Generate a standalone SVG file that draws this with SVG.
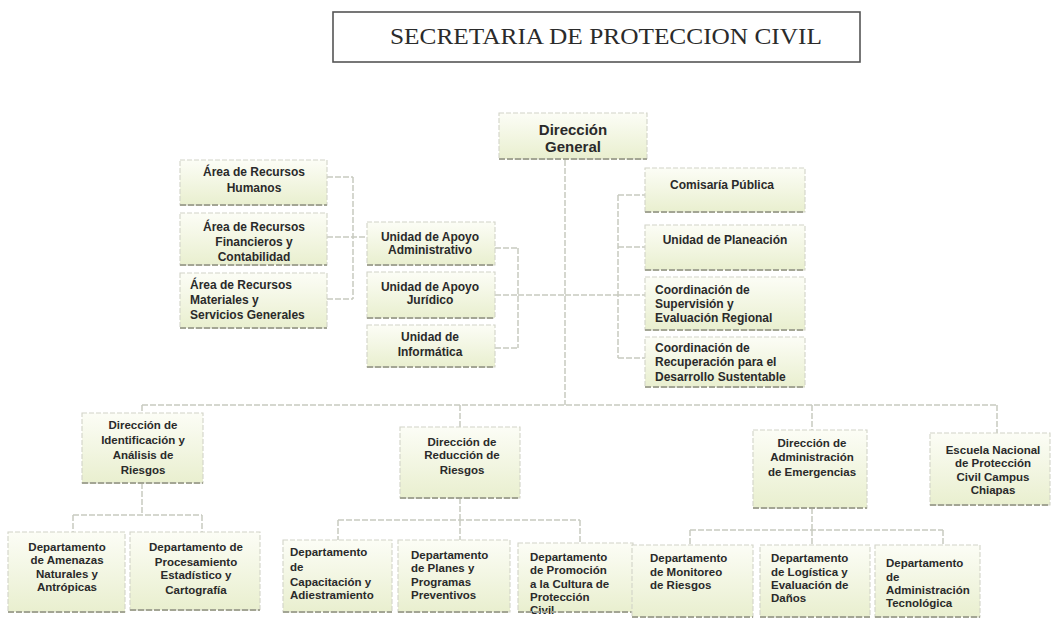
<svg xmlns="http://www.w3.org/2000/svg" width="1055" height="627" viewBox="0 0 1055 627">
<defs>
<linearGradient id="g" x1="0" y1="0" x2="0" y2="1">
<stop offset="0" stop-color="#fcfdf6"/>
<stop offset="1" stop-color="#e9efcf"/>
</linearGradient>
<style>
.bx{fill:url(#g);stroke:#d2d4c8;stroke-width:1.1;stroke-dasharray:5 2}
.sh{stroke:#a3a594;stroke-width:2;stroke-dasharray:6 2;fill:none}
.t{font-family:"Liberation Sans",Arial,sans-serif;font-weight:bold;font-size:12px;fill:#2a2a2a}
.s{font-size:11.5px}
.c{text-anchor:middle}
.dg{font-size:15px}
.cn{stroke:#c8cac0;stroke-width:1.5;stroke-dasharray:6 2;fill:none}
.title{font-family:"Liberation Serif","Times New Roman",serif;font-size:22.5px;fill:#2b2b2b}
</style>
</defs>
<rect width="1055" height="627" fill="#ffffff"/>

<g id="title">
<rect x="333" y="12" width="527" height="50" fill="none" stroke="#555" stroke-width="1.6"/>
<text class="title" x="606" y="44" text-anchor="middle" textLength="432" lengthAdjust="spacingAndGlyphs">SECRETARIA DE PROTECCION CIVIL</text>
</g>

<g id="connectors">
<path class="cn" d="M565 160V405M142 405H997M142 405V413M460 405V427M812 405V430M997 405V433"/>
<path class="cn" d="M518 295H565M518 248V348M495 248H518M495 295H518M495 348H518"/>
<path class="cn" d="M565 295H618M618 195V358M618 195H645M618 247H645M618 295H645M618 358H645"/>
<path class="cn" d="M353 177V299M327 177H353M327 237H367M327 299H353"/>
<path class="cn" d="M142 483V515M73 515H202M73 515V532M202 515V532"/>
<path class="cn" d="M460 498V520M338 520H580M338 520V540M460 520V540M580 520V543"/>
<path class="cn" d="M812 508V530M690 530H943M690 530V545M812 530V545M943 530V545"/>
</g>

<g id="direccion-general">
<rect class="bx" x="499" y="113" width="148" height="46"/><path class="sh" d="M499 159H647"/>
<text class="t c dg" x="573" y="135">Dirección</text>
<text class="t c dg" x="573" y="152">General</text>
</g>

<g id="rh">
<rect class="bx" x="180" y="160" width="147" height="45"/><path class="sh" d="M180 205H327"/>
<text class="t c" x="254" y="176">Área de Recursos</text>
<text class="t c" x="254" y="192">Humanos</text>
</g>
<g id="rf">
<rect class="bx" x="180" y="213" width="147" height="52"/><path class="sh" d="M180 265H327"/>
<text class="t c" x="254" y="231">Área de Recursos</text>
<text class="t c" x="254" y="246">Financieros y</text>
<text class="t c" x="254" y="261">Contabilidad</text>
</g>
<g id="rm">
<rect class="bx" x="180" y="273" width="147" height="55"/><path class="sh" d="M180 328H327"/>
<text class="t" x="190" y="289">Área de Recursos</text>
<text class="t" x="190" y="304">Materiales y</text>
<text class="t" x="190" y="319">Servicios Generales</text>
</g>

<g id="ua">
<rect class="bx" x="367" y="222" width="128" height="43"/><path class="sh" d="M367 265H495"/>
<text class="t c" x="430" y="241">Unidad de Apoyo</text>
<text class="t c" x="430" y="254">Administrativo</text>
</g>
<g id="uj">
<rect class="bx" x="367" y="272" width="128" height="46"/><path class="sh" d="M367 318H495"/>
<text class="t c" x="430" y="291">Unidad de Apoyo</text>
<text class="t c" x="430" y="304">Jurídico</text>
</g>
<g id="ui">
<rect class="bx" x="367" y="325" width="128" height="42"/><path class="sh" d="M367 367H495"/>
<text class="t c" x="430" y="341">Unidad de</text>
<text class="t c" x="430" y="356">Informática</text>
</g>

<g id="cp">
<rect class="bx" x="645" y="168" width="160" height="44"/><path class="sh" d="M645 212H805"/>
<text class="t c" x="722" y="189">Comisaría Pública</text>
</g>
<g id="up">
<rect class="bx" x="645" y="225" width="160" height="45"/><path class="sh" d="M645 270H805"/>
<text class="t c" x="725" y="244">Unidad de Planeación</text>
</g>
<g id="cs">
<rect class="bx" x="645" y="277" width="160" height="53"/><path class="sh" d="M645 330H805"/>
<text class="t" x="655" y="294">Coordinación de</text>
<text class="t" x="655" y="308">Supervisión  y</text>
<text class="t" x="655" y="322">Evaluación Regional</text>
</g>
<g id="cr">
<rect class="bx" x="645" y="337" width="160" height="50"/><path class="sh" d="M645 387H805"/>
<text class="t" x="655" y="352">Coordinación de</text>
<text class="t" x="655" y="366">Recuperación para el</text>
<text class="t" x="655" y="381">Desarrollo Sustentable</text>
</g>

<g id="dia">
<rect class="bx" x="82" y="413" width="121" height="70"/><path class="sh" d="M82 483H203"/>
<text class="t c s" x="143" y="429">Dirección de</text>
<text class="t c s" x="143" y="444">Identificación y</text>
<text class="t c s" x="143" y="459">Análisis de</text>
<text class="t c s" x="143" y="474">Riesgos</text>
</g>
<g id="drr">
<rect class="bx" x="400" y="427" width="120" height="71"/><path class="sh" d="M400 498H520"/>
<text class="t c s" x="462" y="446">Dirección de</text>
<text class="t c s" x="462" y="459">Reducción de</text>
<text class="t c s" x="462" y="474">Riesgos</text>
</g>
<g id="dae">
<rect class="bx" x="753" y="430" width="114" height="78"/><path class="sh" d="M753 508H867"/>
<text class="t c s" x="812" y="447">Dirección de</text>
<text class="t c s" x="812" y="461">Administración</text>
<text class="t c s" x="812" y="476">de Emergencias</text>
</g>
<g id="escuela">
<rect class="bx" x="930" y="433" width="120" height="72"/><path class="sh" d="M930 505H1050"/>
<text class="t c s" x="993" y="454">Escuela Nacional</text>
<text class="t c s" x="993" y="467">de Protección</text>
<text class="t c s" x="993" y="481">Civil Campus</text>
<text class="t c s" x="993" y="494">Chiapas</text>
</g>

<g id="d-amenazas">
<rect class="bx" x="8" y="532" width="117" height="80"/><path class="sh" d="M8 612H125"/>
<text class="t c s" x="67" y="551">Departamento</text>
<text class="t c s" x="67" y="564">de Amenazas</text>
<text class="t c s" x="67" y="578">Naturales y</text>
<text class="t c s" x="67" y="591">Antrópicas</text>
</g>
<g id="d-procesamiento">
<rect class="bx" x="130" y="532" width="130" height="78"/><path class="sh" d="M130 610H260"/>
<text class="t c s" x="196" y="551">Departamento de</text>
<text class="t c s" x="196" y="566">Procesamiento</text>
<text class="t c s" x="196" y="579">Estadístico y</text>
<text class="t c s" x="196" y="594">Cartografía</text>
</g>
<g id="d-capacitacion">
<rect class="bx" x="283" y="540" width="109" height="72"/><path class="sh" d="M283 612H392"/>
<text class="t s" x="290" y="556">Departamento</text>
<text class="t s" x="290" y="571">de</text>
<text class="t s" x="290" y="586">Capacitación y</text>
<text class="t s" x="290" y="599">Adiestramiento</text>
</g>
<g id="d-planes">
<rect class="bx" x="398" y="540" width="112" height="72"/><path class="sh" d="M398 612H510"/>
<text class="t s" x="411" y="559">Departamento</text>
<text class="t s" x="411" y="572">de Planes y</text>
<text class="t s" x="411" y="586">Programas</text>
<text class="t s" x="411" y="599">Preventivos</text>
</g>
<g id="d-promocion">
<rect class="bx" x="518" y="543" width="115" height="69"/>
<text class="t s" x="530" y="561">Departamento</text>
<text class="t s" x="530" y="574">de Promoción</text>
<text class="t s" x="530" y="588">a la Cultura de</text>
<text class="t s" x="530" y="601">Protección</text>
<text class="t s" x="530" y="614">Civil</text>
<path class="sh" d="M518 612H633"/>
</g>
<g id="d-monitoreo">
<rect class="bx" x="632" y="545" width="121" height="72"/><path class="sh" d="M632 617H753"/>
<text class="t s" x="650" y="562">Departamento</text>
<text class="t s" x="650" y="576">de Monitoreo</text>
<text class="t s" x="650" y="589">de Riesgos</text>
</g>
<g id="d-logistica">
<rect class="bx" x="760" y="545" width="110" height="72"/><path class="sh" d="M760 617H870"/>
<text class="t s" x="771" y="562">Departamento</text>
<text class="t s" x="771" y="576">de Logística y</text>
<text class="t s" x="771" y="589">Evaluación de</text>
<text class="t s" x="771" y="602">Daños</text>
</g>
<g id="d-tecnologica">
<rect class="bx" x="875" y="545" width="105" height="72"/><path class="sh" d="M875 617H980"/>
<text class="t s" x="886" y="567">Departamento</text>
<text class="t s" x="886" y="581">de</text>
<text class="t s" x="886" y="594">Administración</text>
<text class="t s" x="886" y="607">Tecnológica</text>
</g>
</svg>
